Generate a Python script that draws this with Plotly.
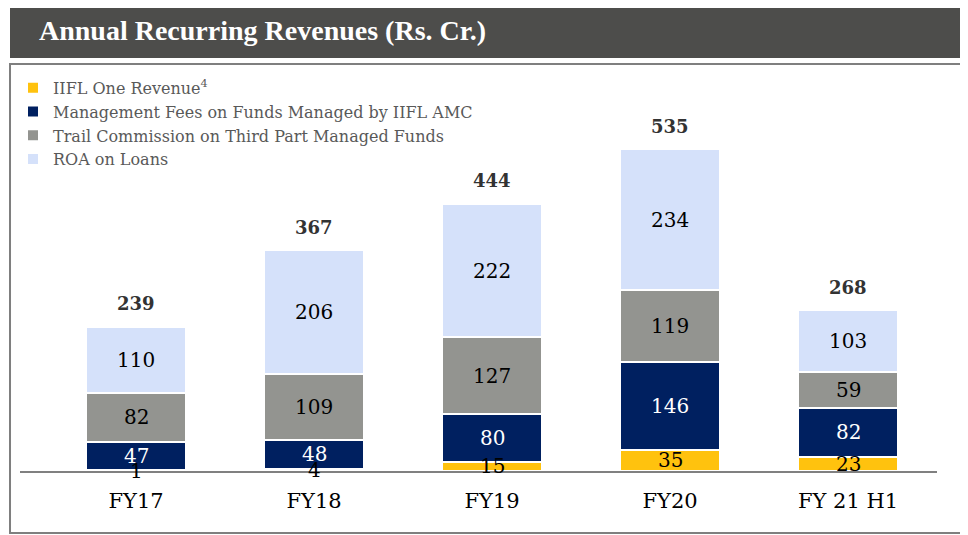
import plotly.graph_objects as go

categories = ["FY17", "FY18", "FY19", "FY20", "FY 21 H1"]
iifl_one = [1, 4, 15, 35, 23]
mgmt_fees = [47, 48, 80, 146, 82]
trail_comm = [82, 109, 127, 119, 59]
roa_loans = [110, 206, 222, 234, 103]
totals = [239, 367, 444, 535, 268]

series = [
    ("IIFL One Revenue<sup>4</sup>", iifl_one, "#FFC20E", "#000000"),
    ("Management Fees on Funds Managed by IIFL AMC", mgmt_fees, "#002060", "#FFFFFF"),
    ("Trail Commission on Third Part Managed Funds", trail_comm, "#939490", "#000000"),
    ("ROA on Loans", roa_loans, "#D5E1FA", "#000000"),
]

LABEL_FONT = "DejaVu Serif"
fig = go.Figure()
annotations = []
base = [0] * len(categories)
for i, (name, vals, color, tcolor) in enumerate(series):
    fig.add_trace(go.Bar(
        x=list(range(len(categories))), y=vals, name=name,
        marker=dict(color=color, line=dict(color="white", width=2)),
        width=0.565, legendgroup=str(i), hoverinfo="skip",
    ))
    for j, v in enumerate(vals):
        annotations.append(dict(
            x=j, y=base[j] + v / 2, xref="x", yref="y", text=str(v),
            showarrow=False, font=dict(family=LABEL_FONT, size=20, color=tcolor),
        ))
        base[j] += v

for j, t in enumerate(totals):
    annotations.append(dict(
        x=j, y=base[j], xref="x", yref="y", text=f"<b>{t}</b>",
        showarrow=False, yanchor="middle", yshift=23,
        font=dict(family=LABEL_FONT, size=18, color="#333333"),
    ))

annotations.append(dict(
    x=0.0185, y=1.099, xref="paper", yref="paper", xanchor="left", yanchor="middle",
    text="<b>Annual Recurring Revenues (Rs. Cr.)</b>", showarrow=False,
    font=dict(family="Liberation Serif", size=28, color="white"),
))

shapes = [
    dict(type="rect", xref="paper", yref="paper", x0=-0.0109, x1=1.0316, y0=1.030, y1=1.17,
         fillcolor="#4D4D4B", line=dict(width=0), layer="below"),
    dict(type="rect", xref="paper", yref="paper", x0=-0.0109, x1=1.0305, y0=-0.1546, y1=1.015,
         fillcolor="rgba(0,0,0,0)", line=dict(color="#7F7F7F", width=2), layer="below"),
]

# page body has an 8px default margin: figure is sized/offset to compensate
fig.update_layout(
    width=960, height=527,
    margin=dict(l=12, r=31, t=62, b=64, autoexpand=False),
    paper_bgcolor="white", plot_bgcolor="white",
    barmode="stack", bargap=0,
    annotations=annotations, shapes=shapes,
    showlegend=True,
    legend=dict(
        x=-0.0076, y=0.998, xanchor="left", yanchor="top", traceorder="normal",
        font=dict(family=LABEL_FONT, size=16, color="#595959"),
        bgcolor="rgba(0,0,0,0)", tracegroupgap=6, itemsizing="constant",
    ),
    xaxis=dict(
        tickmode="array", tickvals=list(range(len(categories))), ticktext=categories,
        range=[-0.652, 4.5], showgrid=False, zeroline=False,
        showline=True, linecolor="#808080", linewidth=2,
        ticks="outside", ticklen=10, tickcolor="rgba(0,0,0,0)",
        tickfont=dict(family=LABEL_FONT, size=21, color="#000000"),
        fixedrange=True,
    ),
    yaxis=dict(range=[0, 666], visible=False, fixedrange=True),
)

fig.write_html("out.html")
